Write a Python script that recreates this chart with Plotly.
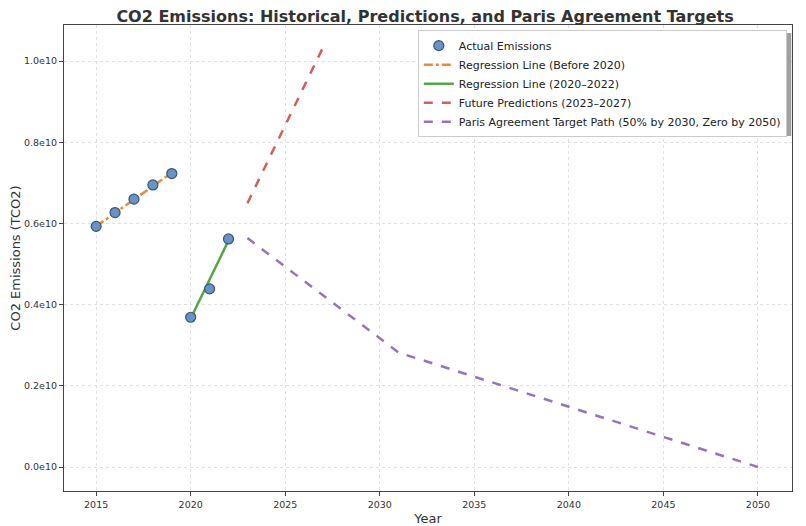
import plotly.graph_objects as go

# Actual emissions (tCO2)
years_actual = [2015, 2016, 2017, 2018, 2019, 2020, 2021, 2022]
emissions_actual = [5.93e9, 6.27e9, 6.60e9, 6.95e9, 7.23e9, 3.69e9, 4.39e9, 5.62e9]

# Regression before 2020
years_reg1 = [2015, 2016, 2017, 2018, 2019]
reg1_values = [5.93e9, 6.26e9, 6.59e9, 6.92e9, 7.25e9]

# Regression 2020-2022
years_reg2 = [2020, 2021, 2022]
reg2_values = [3.66e9, 4.62e9, 5.58e9]

# Future predictions
years_future = [2023, 2024, 2025, 2026, 2027]
future_values = [6.50e9, 7.46e9, 8.42e9, 9.38e9, 10.34e9]

# Paris agreement path
years_paris = [2023, 2031, 2050]
paris_values = [5.64e9, 2.82e9, 0.0]

y_tickvals = [0, 0.2e10, 0.4e10, 0.6e10, 0.8e10, 1.0e10]
y_ticktext = ["0.0e10", "0.2e10", "0.4e10", "0.6e10", "0.8e10", "1.0e10"]
x_tickvals = [2015, 2020, 2025, 2030, 2035, 2040, 2045, 2050]

FONT = "DejaVu Sans"

fig = go.Figure()

# lines first, markers last so they sit on top
fig.add_trace(go.Scatter(
    x=years_reg1, y=reg1_values, mode="lines", legendrank=2,
    name="Regression Line (Before 2020)",
    line=dict(color="#ec8a3c", width=2.5, dash="dashdot"),
))
fig.add_trace(go.Scatter(
    x=years_reg2, y=reg2_values, mode="lines", legendrank=3,
    name="Regression Line (2020\u20132022)",
    line=dict(color="#57a646", width=2.5),
))
fig.add_trace(go.Scatter(
    x=years_future, y=future_values, mode="lines", legendrank=4,
    name="Future Predictions (2023\u20132027)",
    line=dict(color="#d0605c", width=2.5, dash="dash"),
))
fig.add_trace(go.Scatter(
    x=years_paris, y=paris_values, mode="lines", legendrank=5,
    name="Paris Agreement Target Path (50% by 2030, Zero by 2050)",
    line=dict(color="#9474c0", width=2.5, dash="dash"),
))
fig.add_trace(go.Scatter(
    x=years_actual, y=emissions_actual, mode="markers", legendrank=1,
    name="Actual Emissions",
    marker=dict(size=10, color="#6893c4", line=dict(color="#3a5573", width=1.2)),
))

# fake legend shadow
fig.add_shape(type="rect", xref="paper", yref="paper",
              x0=0.490, x1=0.999, y0=0.762, y1=0.983,
              fillcolor="#a0a0a0", line=dict(width=0), layer="above")

# page body has an 8px margin, so the figure is 8px smaller than the window
fig.update_layout(
    width=798, height=518,
    paper_bgcolor="white", plot_bgcolor="white",
    margin=dict(l=56, r=14, t=17, b=35),
    title=dict(text="<b>CO2 Emissions: Historical, Predictions, and Paris Agreement Targets</b>",
               x=0.5226, xanchor="center", y=0.984, yanchor="middle",
               font=dict(family=FONT, size=16, color="#333333")),
    font=dict(family=FONT, color="#333333"),
    legend=dict(x=0.486, y=0.989, xanchor="left", yanchor="top",
                bgcolor="white", bordercolor="#cccccc", borderwidth=1,
                font=dict(family=FONT, size=11, color="#222222"),
                tracegroupgap=0, itemwidth=30),
)

fig.update_xaxes(
    range=[2013.3, 2051.8], tickvals=x_tickvals, automargin=False,
    showgrid=True, gridcolor="#e0e0e0", griddash="dot", gridwidth=1,
    zeroline=False, showline=True, linecolor="#444444", linewidth=1.2, mirror=True,
    ticks="outside", ticklen=4, tickcolor="#444444",
    tickfont=dict(size=9.5, color="#333333"),
    title=dict(text="Year", font=dict(size=13, color="#333333"), standoff=6),
)
fig.update_yaxes(
    range=[-0.059e10, 1.089e10], tickvals=y_tickvals, ticktext=y_ticktext, automargin=False,
    showgrid=True, gridcolor="#e0e0e0", griddash="dot", gridwidth=1,
    zeroline=False, showline=True, linecolor="#444444", linewidth=1.2, mirror=True,
    ticks="outside", ticklen=4, tickcolor="#444444",
    tickfont=dict(size=9.5, color="#333333"),
    title=dict(text="CO2 Emissions (TCO2)", font=dict(size=13, color="#333333"), standoff=6),
)

fig.write_html("out.html")
